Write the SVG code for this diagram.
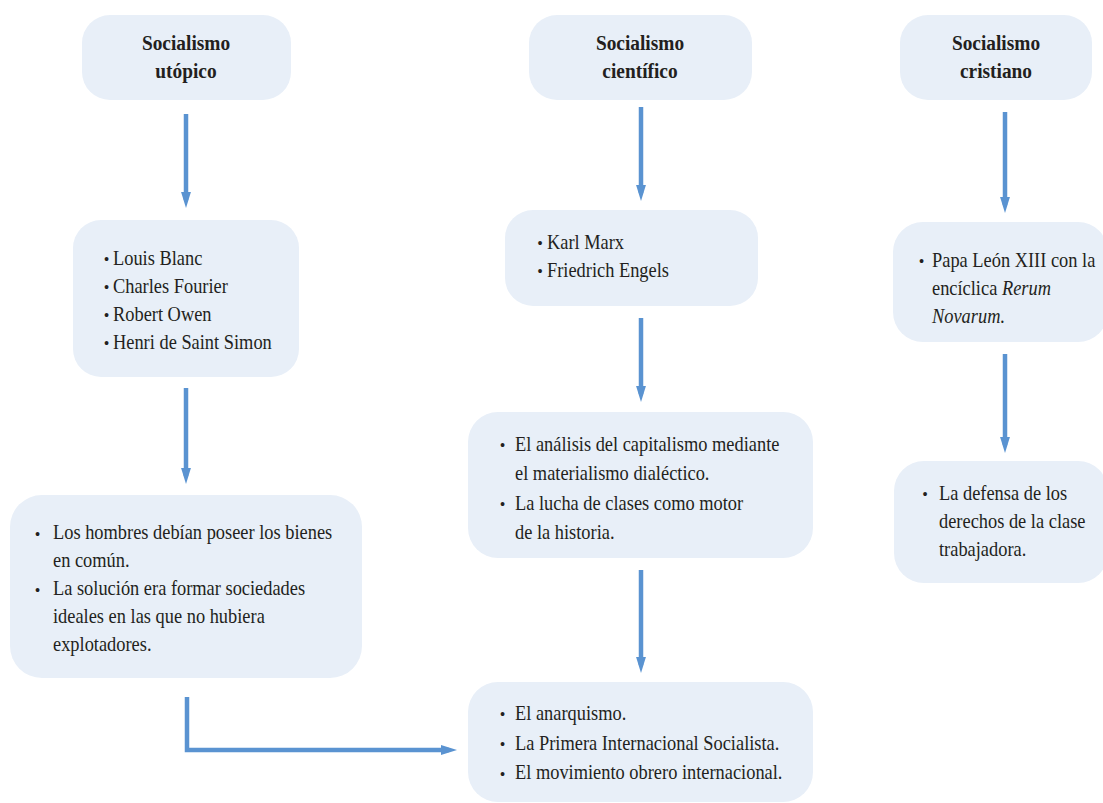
<svg xmlns="http://www.w3.org/2000/svg" width="1103" height="803" viewBox="0 0 1103 803">
<style>
.box{fill:#E8EFF8;}
text{font-family:'Liberation Serif','Times New Roman',serif;fill:#231F20;}
.t{font-size:21.5px;}
.b{font-size:16px;text-anchor:middle;}
.h{font-size:22px;font-weight:bold;text-anchor:middle;}
.c{stroke:#5A93D1;stroke-width:4.5;fill:none;}
</style>
<defs>
<marker id="ah" viewBox="0 0 10 10" refX="5" refY="5" markerWidth="3.6" markerHeight="2.2" orient="auto" markerUnits="strokeWidth" preserveAspectRatio="none">
<path d="M0,0 L10,5 L0,10 Z" fill="#5A93D1"/>
</marker>
</defs>
<rect width="1103" height="803" fill="#FFFFFF"/>
<g id="connectors">
<path class="c" d="M186,114 V200" marker-end="url(#ah)"/>
<path class="c" d="M186,388 V476" marker-end="url(#ah)"/>
<path class="c" d="M187,697 V750 H449" marker-end="url(#ah)"/>
<path class="c" d="M641,107 V193" marker-end="url(#ah)"/>
<path class="c" d="M641,318 V394" marker-end="url(#ah)"/>
<path class="c" d="M641,570 V665" marker-end="url(#ah)"/>
<path class="c" d="M1005,112 V205" marker-end="url(#ah)"/>
<path class="c" d="M1005,354 V445" marker-end="url(#ah)"/>
</g>
<g id="n-utopico">
<rect class="box" x="82" y="15" width="209" height="85" rx="28"/>
<g transform="matrix(0.88 0 0 1 22.32 0)">
<text class="h" x="186" y="50">Socialismo</text>
<text class="h" x="186" y="78">utópico</text>
</g>
</g>
<g id="n-cientifico">
<rect class="box" x="529" y="15" width="223" height="85" rx="28"/>
<g transform="matrix(0.88 0 0 1 76.8 0)">
<text class="h" x="640" y="50">Socialismo</text>
<text class="h" x="640" y="78">científico</text>
</g>
</g>
<g id="n-cristiano">
<rect class="box" x="900" y="15" width="192" height="85" rx="28"/>
<g transform="matrix(0.88 0 0 1 119.52 0)">
<text class="h" x="996" y="50">Socialismo</text>
<text class="h" x="996" y="78">cristiano</text>
</g>
</g>
<g id="n-autores-utopico">
<rect class="box" x="73" y="220" width="226" height="157" rx="28"/>
<text class="b" x="106.5" y="265">•</text>
<text class="b" x="106.5" y="293">•</text>
<text class="b" x="106.5" y="321">•</text>
<text class="b" x="106.5" y="349">•</text>
<g transform="matrix(0.855 0 0 1 16.385 0)">
<text class="t" x="113" y="265">Louis Blanc</text>
<text class="t" x="113" y="293">Charles Fourier</text>
<text class="t" x="113" y="321">Robert Owen</text>
<text class="t" x="113" y="349">Henri de Saint Simon</text>
</g>
</g>
<g id="n-ideas-utopico">
<rect class="box" x="10" y="495" width="352" height="183" rx="32"/>
<text class="b" x="37.5" y="539.5">•</text>
<text class="b" x="37.5" y="595.5">•</text>
<g transform="matrix(0.855 0 0 1 7.685 0)">
<text class="t" x="53" y="539.5">Los hombres debían poseer los bienes</text>
<text class="t" x="53" y="567.5">en común.</text>
<text class="t" x="53" y="595.5">La solución era formar sociedades</text>
<text class="t" x="53" y="623.5">ideales en las que no hubiera</text>
<text class="t" x="53" y="651.5">explotadores.</text>
</g>
</g>
<g id="n-autores-cientifico">
<rect class="box" x="505" y="210" width="253" height="96" rx="28"/>
<text class="b" x="540" y="249">•</text>
<text class="b" x="540" y="277">•</text>
<g transform="matrix(0.855 0 0 1 79.315 0)">
<text class="t" x="547" y="249">Karl Marx</text>
<text class="t" x="547" y="277">Friedrich Engels</text>
</g>
</g>
<g id="n-ideas-cientifico">
<rect class="box" x="468" y="412" width="345" height="146" rx="30"/>
<text class="b" x="502.5" y="451">•</text>
<text class="b" x="502.5" y="510">•</text>
<g transform="matrix(0.855 0 0 1 74.675 0)">
<text class="t" x="515" y="451">El análisis del capitalismo mediante</text>
<text class="t" x="515" y="480.5">el materialismo dialéctico.</text>
<text class="t" x="515" y="510">La lucha de clases como motor</text>
<text class="t" x="515" y="539.5">de la historia.</text>
</g>
</g>
<g id="n-resultados">
<rect class="box" x="468" y="682" width="345" height="120" rx="30"/>
<text class="b" x="502.5" y="720">•</text>
<text class="b" x="502.5" y="750">•</text>
<text class="b" x="502.5" y="779.5">•</text>
<g transform="matrix(0.855 0 0 1 74.675 0)">
<text class="t" x="515" y="720">El anarquismo.</text>
<text class="t" x="515" y="750">La Primera Internacional Socialista.</text>
<text class="t" x="515" y="779.5">El movimiento obrero internacional.</text>
</g>
</g>
<g id="n-autores-cristiano">
<rect class="box" x="893" y="222" width="215" height="120" rx="30"/>
<text class="b" x="921.5" y="267">•</text>
<g transform="matrix(0.855 0 0 1 135.14 0)">
<text class="t" x="932" y="267">Papa León XIII con la</text>
<text class="t" x="932" y="295">encíclica <tspan font-style="italic">Rerum</tspan></text>
<text class="t" x="932" y="323" font-style="italic">Novarum.</text>
</g>
</g>
<g id="n-ideas-cristiano">
<rect class="box" x="894" y="461" width="214" height="122" rx="30"/>
<text class="b" x="925" y="500">•</text>
<g transform="matrix(0.855 0 0 1 136.155 0)">
<text class="t" x="939" y="500">La defensa de los</text>
<text class="t" x="939" y="528">derechos de la clase</text>
<text class="t" x="939" y="556">trabajadora.</text>
</g>
</g>
</svg>
